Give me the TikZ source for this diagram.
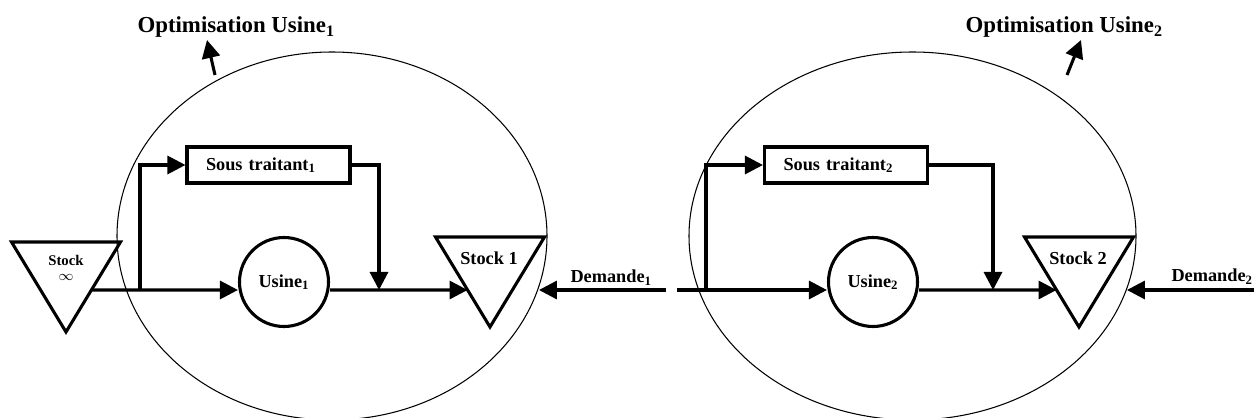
\documentclass[tikz,border=0pt]{standalone}
\usepackage{fontspec}
\setmainfont{Liberation Serif}
\usetikzlibrary{arrows.meta,shapes.geometric,calc}

\begin{document}
\begin{tikzpicture}[x=0.2mm,y=-0.2mm,>={Triangle[length=3.6mm,width=3.6mm]},line width=1.75pt,
    zone/.style={ellipse,draw,line width=0.6pt,inner sep=0pt,minimum height=73.6mm},
    stock node/.style={isosceles triangle,isosceles triangle stretches,shape border rotate=-90,draw,inner sep=0pt,outer sep=0pt,minimum width=21.8mm,minimum height=18mm,anchor=apex},
    usine node/.style={circle,draw,minimum size=17.8mm,inner sep=0pt,font=\fontsize{10.4}{12}\selectfont\bfseries},
    traitant node/.style={rectangle,draw,minimum height=7.2mm,text width=25mm,inner xsep=3.8mm,inner ysep=0pt,align=left,font=\fontsize{10.4}{12}\selectfont\bfseries},
    label node/.style={font=\fontsize{10.4}{12}\selectfont\bfseries,inner sep=0pt},
    title node/.style={font=\fontsize{13}{15}\selectfont\bfseries,inner sep=0pt,anchor=base west}]
    \useasboundingbox (0,0) rectangle (1254,418);

    % usine 1
    \node[zone,minimum width=86mm] (e1) at (332,236) {};
    \node[stock node] (sinf) at (66,332) {};
    \node[label node,font=\fontsize{8.4}{8.8}\selectfont\bfseries,align=center] (sinflbl) at (66,268) {Stock\\$\infty$};
    \node[usine node] (u1) at (284,282) {Usine\textsubscript{1}};
    \node[traitant node] (t1) at (268.5,165) {Sous traitant\textsubscript{1}};
    \node[stock node] (s1) at (490,327) {};
    \node[label node] (s1lbl) at (489,258) {Stock 1};
    \node[label node,anchor=base west] (d1lbl) at (569,283) {Demande\textsubscript{1}};
    \node[title node] (o1) at (136,33) {Optimisation Usine\textsubscript{1}};
    \coordinate (b1) at (140,290);
    \coordinate (j1) at (379,290);
    \coordinate (d1) at (666,290);
    \coordinate (o1foot) at (215,75);
    \coordinate (o1tip) at (207,40);

    % usine 2
    \node[zone,minimum width=89.4mm] (e2) at (912.5,236) {};
    \node[usine node] (u2) at (873,282) {Usine\textsubscript{2}};
    \node[traitant node] (t2) at (846,165) {Sous traitant\textsubscript{2}};
    \node[stock node] (s2) at (1079,327) {};
    \node[label node] (s2lbl) at (1078,258) {Stock 2};
    \node[label node,anchor=base west] (d2lbl) at (1170,282) {Demande\textsubscript{2}};
    \node[title node] (o2) at (964,33) {Optimisation Usine\textsubscript{2}};
    \coordinate (m2) at (677,290);
    \coordinate (b2) at (706,290);
    \coordinate (j2) at (993,290);
    \coordinate (d2) at (1254,290);
    \coordinate (o2foot) at (1067,75);
    \coordinate (o2tip) at (1081,40);

    \draw[->] ($(sinf.left corner)!0.533!(sinf.apex)$) -- (b1 -| u1.west);
    \draw[->] (b1) |- (t1.west);
    \draw[->] (t1.east) -| (j1);
    \draw[->] (u1.east |- j1) -- ($(s1.right corner)!0.589!(s1.apex)$);
    \draw[->] (d1) -- (d1 -| e1.-14.5);

    \draw[->] (m2) -- (m2 -| u2.west);
    \draw[->] (b2) |- (t2.west);
    \draw[->] (t2.east) -| (j2);
    \draw[->] (u2.east |- j2) -- ($(s2.right corner)!0.589!(s2.apex)$);
    \draw[->] (d2) -- (d2 -| e2.-14);

    \path[->]
        (o1foot) edge (o1tip)
        (o2foot) edge (o2tip)
        ;
\end{tikzpicture}
\end{document}
